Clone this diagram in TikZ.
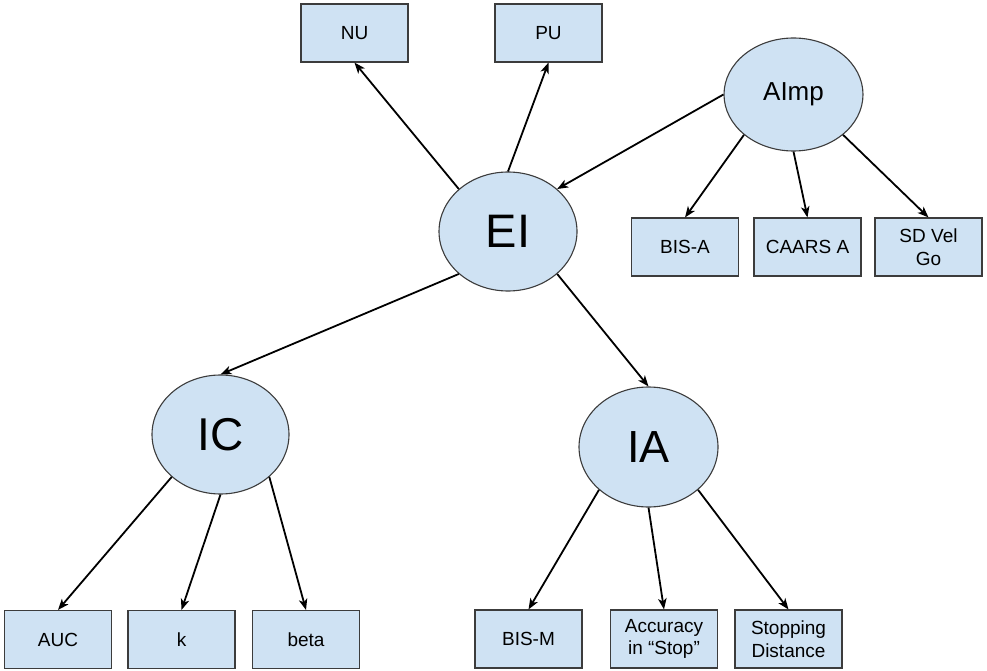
\documentclass[tikz,border=0pt]{standalone}
\usepackage{fontspec}
\setmainfont{Liberation Sans}
\usetikzlibrary{arrows.meta,shapes.geometric}
\definecolor{nodefill}{HTML}{CFE2F3}
\definecolor{nodeline}{HTML}{3C3C3C}
\begin{document}
\begin{tikzpicture}[x=1pt,y=-1pt,
  box/.style={draw=nodeline, line width=1.1pt, fill=nodefill, rectangle,
    minimum width=107pt, minimum height=58pt, inner sep=0pt,
    align=center, font=\fontsize{19}{22.5}\selectfont},
  factor/.style={draw=nodeline, line width=1.1pt, fill=nodefill, ellipse,
    inner sep=0pt},
  link/.style={-{Stealth[length=11pt,width=8.5pt,inset=3pt]}, line width=1.8pt, black}]
  \useasboundingbox (0,0) rectangle (987,671);

  % latent factors
  \node[factor, minimum width=138pt, minimum height=119pt, font=\fontsize{47}{47}\selectfont] (EI) at (508,231.5) {EI};
  \node[factor, minimum width=139pt, minimum height=113pt, font=\fontsize{26}{26}\selectfont] (AImp) at (793.5,94.5) {AImp};
  \node[factor, minimum width=137pt, minimum height=119pt, font=\fontsize{46}{46}\selectfont] (IC) at (220.5,434.5) {IC};
  \node[factor, minimum width=139pt, minimum height=120pt, font=\fontsize{45}{45}\selectfont] (IA) at (648.5,447) {IA};

  % indicators
  \node[box] (NU) at (354.5,33) {NU};
  \node[box] (PU) at (548.5,33) {PU};
  \node[box] (BISA) at (685,247) {BIS-A};
  \node[box] (CAARS) at (807.5,247) {CAARS A};
  \node[box] (SDVel) at (928.5,247) {SD Vel\\Go};
  \node[box] (AUC) at (58,639.5) {AUC};
  \node[box] (k) at (181.5,639.5) {k};
  \node[box] (beta) at (306,639.5) {beta};
  \node[box] (BISM) at (528.5,639) {BIS-M};
  \node[box] (Acc) at (664,639) {Accuracy\\in “Stop”};
  \node[box] (Stop) at (788.5,639) {Stopping\\Distance};

  % connectors
  \draw[link] (EI.north west) -- (NU.south);
  \draw[link] (EI.north) -- (PU.south);
  \draw[link] (AImp.west) -- (EI.north east);
  \draw[link] (AImp.south west) -- (BISA.north);
  \draw[link] (AImp.south) -- (CAARS.north);
  \draw[link] (AImp.south east) -- (SDVel.north);
  \draw[link] (EI.south west) -- (IC.north);
  \draw[link] (EI.south east) -- (IA.north);
  \draw[link] (IC.south west) -- (AUC.north);
  \draw[link] (IC.south) -- (k.north);
  \draw[link] (IC.south east) -- (beta.north);
  \draw[link] (IA.south west) -- (BISM.north);
  \draw[link] (IA.south) -- (Acc.north);
  \draw[link] (IA.south east) -- (Stop.north);
\end{tikzpicture}
\end{document}
